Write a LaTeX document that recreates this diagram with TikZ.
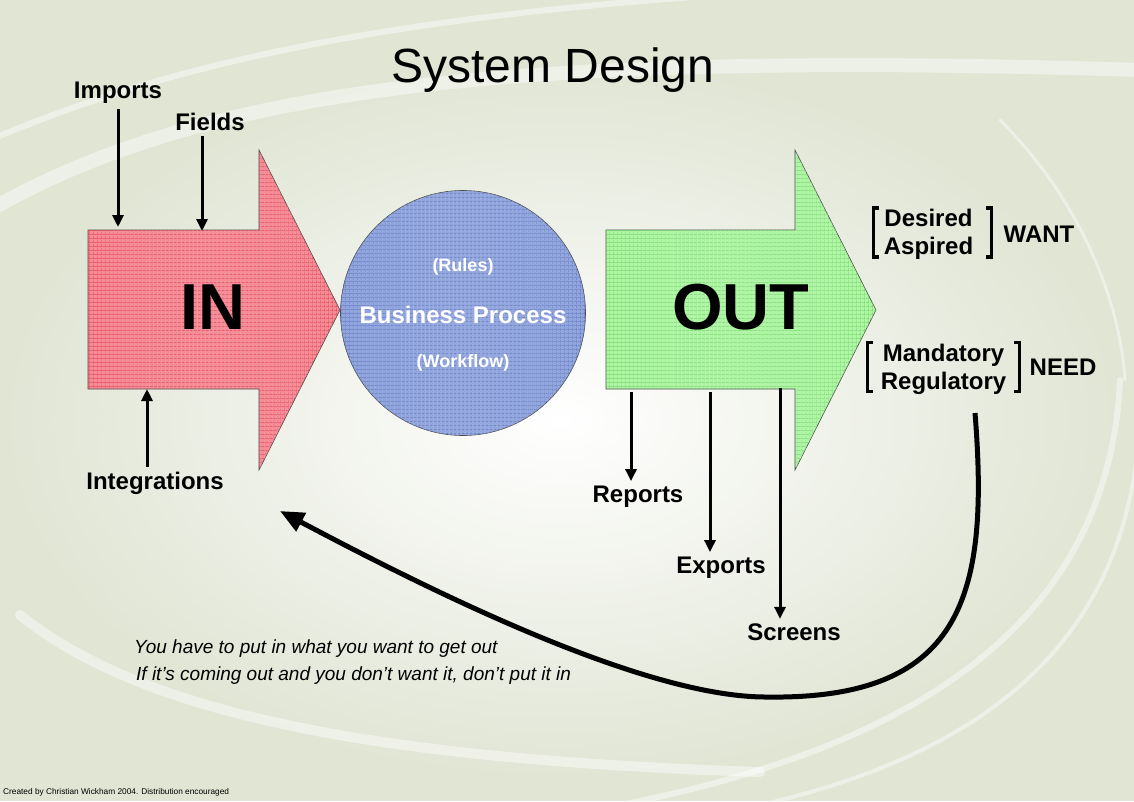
\documentclass[tikz,border=0pt]{standalone}
\usepackage{fontspec}
\setmainfont{Liberation Sans}
\usepackage{tikz}
\usetikzlibrary{arrows.meta,patterns.meta}
\definecolor{bgtint}{RGB}{224,229,212}
\definecolor{inred}{RGB}{246,140,150}
\definecolor{ingrid}{RGB}{226,70,90}
\definecolor{procblue}{RGB}{146,166,222}
\definecolor{procgrid}{RGB}{100,122,196}
\definecolor{outgreen}{RGB}{176,246,164}
\definecolor{outgrid}{RGB}{110,214,106}
\tikzstyle{io label}=[font=\fontsize{24}{28}\selectfont\bfseries,inner sep=0pt,outer sep=5pt,anchor=base]
\tikzstyle{bracket text}=[font=\fontsize{24}{28}\selectfont\bfseries,inner sep=0pt,align=center]
\tikzstyle{big word}=[font=\fontsize{65}{70}\selectfont\bfseries,inner sep=0pt]
\tikzstyle{proc text}=[text=white,font=\fontsize{18}{22}\selectfont\bfseries,inner sep=0pt]
\tikzstyle{motto}=[font=\fontsize{19}{23}\selectfont\itshape,inner sep=0pt,anchor=west]
\tikzstyle{feed}=[draw,line width=3pt,-{Triangle[length=12pt,width=11pt]}]
\tikzstyle{bracket}=[draw,line width=3.5pt]
\tikzstyle{swoosh}=[draw=white,opacity=0.45,line cap=round]
\tikzstyle{hatch}=[postaction={pattern={Lines[angle=0,distance=4pt,line width=0.6pt]},pattern color=#1},
  postaction={pattern={Lines[angle=90,distance=4pt,line width=0.6pt]},pattern color=#1}]

\begin{document}
\begin{tikzpicture}[x=1pt,y=-1pt]
          \useasboundingbox (0,0) rectangle (1134,801);
          % background
          \fill[bgtint] (0,0) rectangle (1134,801);
          \shade[inner color=white,outer color=bgtint] (560,420) ellipse (560 and 360);
          \draw[swoosh,line width=14pt] (-10,210) .. controls (200,90) and (500,50) .. (1140,70);
          \draw[swoosh,line width=6pt] (-10,140) .. controls (200,50) and (450,10) .. (800,-10);
          \draw[swoosh,line width=10pt] (20,615) .. controls (150,720) and (400,760) .. (760,772);
          \draw[swoosh,line width=6pt] (1120,380) .. controls (1110,600) and (950,740) .. (620,805);
          \draw[swoosh,line width=4pt] (1140,420) .. controls (1130,630) and (1000,750) .. (760,805);
          \draw[swoosh,line width=3pt] (1000,120) .. controls (1080,200) and (1120,300) .. (1125,380);
          % title
          \node[font=\fontsize{48}{54}\selectfont,inner sep=0pt,anchor=base] (title) at (553,82) {System Design};
          % IN arrow
          \path[draw=black!70,line width=0.6pt,fill=inred,hatch=ingrid]
            (88,230) -- (259,230) -- (259,150) -- (340,310) -- (259,470) -- (259,389) -- (88,389) -- cycle;
          \node[big word] (in) at (213,307) {IN};
          % process
          \node[circle,draw=black!70,line width=0.6pt,fill=procblue,hatch=procgrid,
            minimum size=245pt,inner sep=0pt] (proc) at (463,313) {};
          \node[proc text] (rules) at (463,267) {(Rules)};
          \node[proc text,font=\fontsize{24}{28}\selectfont\bfseries] (bp) at (463,315) {Business Process};
          \node[proc text] (flow) at (463,363) {(Workflow)};
          % OUT arrow
          \path[draw=black!70,line width=0.6pt,fill=outgreen,hatch=outgrid]
            (606,230) -- (795,230) -- (795,150) -- (876,310) -- (795,470) -- (795,389) -- (606,389) -- cycle;
          \node[big word] (out) at (741,307) {OUT};
          % inputs
          \node[io label] (imp) at (118,98.6) {Imports};
          \node[io label] (fld) at (210,130.6) {Fields};
          \node[io label] (intg) at (155,489.6) {Integrations};
          \coordinate (imp tip) at (118,227);
          \coordinate (fld tip) at (202,231);
          \coordinate (intg tip) at (147,389);
          \draw[feed] (imp) -- (imp tip);
          \draw[feed] (fld.south -| fld tip) -- (fld tip);
          \draw[feed] (intg.north -| intg tip) -- (intg tip);
          % outputs
          \node[io label] (rep) at (638,502.6) {Reports};
          \node[io label] (exp) at (721,573.6) {Exports};
          \node[io label] (scr) at (794,640.6) {Screens};
          \coordinate (rep src) at (631,392);
          \coordinate (exp src) at (710,392);
          \coordinate (scr src) at (780,388);
          \draw[feed] (rep src) -- (rep.north -| rep src);
          \draw[feed] (exp src) -- (exp.north -| exp src);
          \draw[feed] (scr src) -- (scr.north -| scr src);
          % want / need
          \node[bracket text] (aims) at (928.5,234.5) {Desired\\Aspired};
          \node[bracket text] (musts) at (943.5,369) {Mandatory\\Regulatory};
          \draw[bracket] ([shift={(-5,-1)}]aims.north west) -- ([shift={(-10,-1)}]aims.north west)
            -- ([shift={(-10,-3)}]aims.south west) -- ([shift={(-5,-3)}]aims.south west);
          \draw[bracket] ([shift={(13,-1)}]aims.north east) -- ([shift={(18,-1)}]aims.north east)
            -- ([shift={(18,-3)}]aims.south east) -- ([shift={(13,-3)}]aims.south east);
          \draw[bracket] ([shift={(-8,-1)}]musts.north west) -- ([shift={(-13,-1)}]musts.north west)
            -- ([shift={(-13,-3)}]musts.south west) -- ([shift={(-8,-3)}]musts.south west);
          \draw[bracket] ([shift={(8,-1)}]musts.north east) -- ([shift={(13,-1)}]musts.north east)
            -- ([shift={(13,-3)}]musts.south east) -- ([shift={(8,-3)}]musts.south east);
          \node[io label,anchor=center] (want) at (1039,234) {WANT};
          \node[io label,anchor=center] (need) at (1063,367) {NEED};
          % feedback loop
          \coordinate (loop start) at (975,413);
          \coordinate (loop end) at (280,511);
          \draw[line width=5pt,-{Triangle[length=24pt,width=20pt]}] (loop start)
            .. controls (990,600) and (960,700) .. (766,697)
            .. controls (640,697) and (420,585) .. (loop end);
          % notes
          \node[motto] (line1) at (134,649) {You have to put in what you want to get out};
          \node[motto] (line2) at (136,676) {If it’s coming out and you don’t want it, don’t put it in};
          \node[font=\fontsize{8.3}{10}\selectfont,inner sep=0pt,anchor=base west] (credit) at (3,794) {Created by Christian Wickham 2004. Distribution encouraged};
        \end{tikzpicture}
\end{document}
